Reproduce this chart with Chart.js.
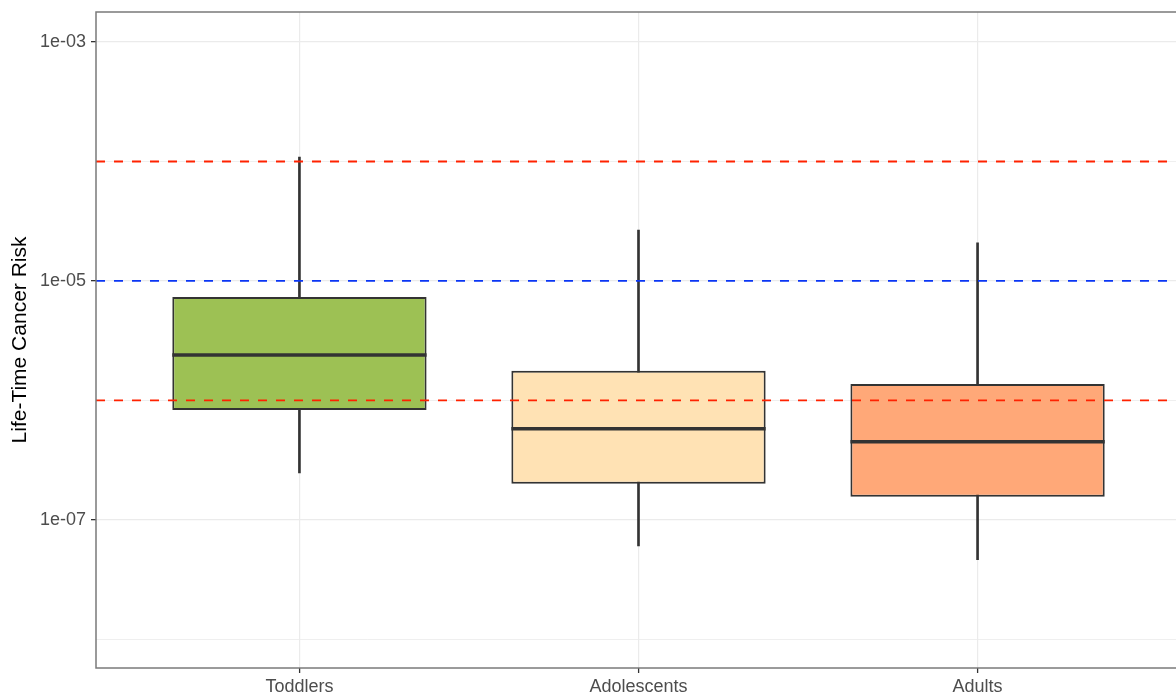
<!DOCTYPE html>
<html>
<head>
<meta charset="utf-8">
<script src="https://cdn.jsdelivr.net/npm/chart.js@4/dist/chart.umd.min.js"></script>
<style>
  body { margin: 0; background: #fff; overflow: hidden; }
  #wrap { width: 1190px; height: 698px; }
</style>
</head>
<body>
<div id="wrap"><canvas id="myChart" width="1190" height="698"></canvas></div>
<script>
// Box plot data
const categories = ['Toddlers', 'Adolescents', 'Adults'];
const whiskerLow = [2.47e-7, 6.05e-8, 4.63e-8];
const q1 = [8.3e-7, 2.0e-7, 1.56e-7];
const medians = [2.4e-6, 5.78e-7, 4.5e-7];
const q3 = [7.35e-6, 1.77e-6, 1.37e-6];
const whiskerHigh = [1.09e-4, 2.67e-5, 2.08e-5];
const boxColors = ['#9dc154', '#ffe2b4', '#ffa878'];

// Axis ticks
const tickValues = [1e-3, 1e-5, 1e-7];
const tickLabels = ['1e-03', '1e-05', '1e-07'];
const minorValues = [1e-4, 1e-6, 1e-8];

// Reference limits
const redLimits = [1e-4, 1e-6];
const blueLimits = [1e-5];

const sameDecade = (a, b) => Math.abs(Math.log10(a) - Math.log10(b)) < 1e-6;
const isMajor = v => tickValues.some(t => sameDecade(t, v));

// Draws medians, dashed limit lines and the panel border
const boxExtras = {
    id: 'boxExtras',
    afterDatasetsDraw(chart) {
        const ctx = chart.ctx;
        const area = chart.chartArea;
        const y = chart.scales.y;

        // dashed limit lines
        ctx.save();
        ctx.lineWidth = 1.8;
        ctx.setLineDash([9, 9]);
        const dashed = (vals, color) => {
            ctx.strokeStyle = color;
            vals.forEach(v => {
                const py = y.getPixelForValue(v);
                ctx.beginPath();
                ctx.moveTo(area.left, py);
                ctx.lineTo(area.right, py);
                ctx.stroke();
            });
        };
        dashed(redLimits, '#ff2200');
        dashed(blueLimits, '#0a36f5');
        ctx.restore();

        // medians
        const meta = chart.getDatasetMeta(0);
        ctx.save();
        ctx.strokeStyle = '#333333';
        ctx.lineWidth = 3.4;
        meta.data.forEach((bar, i) => {
            const py = y.getPixelForValue(medians[i]);
            ctx.beginPath();
            ctx.moveTo(bar.x - bar.width / 2, py);
            ctx.lineTo(bar.x + bar.width / 2, py);
            ctx.stroke();
        });
        ctx.restore();

        // panel border
        ctx.save();
        ctx.strokeStyle = '#7a7a7a';
        ctx.lineWidth = 1.5;
        ctx.strokeRect(area.left, area.top, area.right - area.left, area.bottom - area.top);
        ctx.restore();
    }
};

const ctx = document.getElementById('myChart');

const chart = new Chart(ctx, {
    type: 'bar',
    data: {
        datasets: [
            {
                label: 'Box',
                data: categories.map((c, i) => ({ x: i, y: [q1[i], q3[i]] })),
                backgroundColor: boxColors,
                borderColor: '#333333',
                borderWidth: 2,
                borderSkipped: false,
                grouped: false,
                categoryPercentage: 1,
                barPercentage: 0.75,
                order: 0
            },
            {
                label: 'Whisker',
                data: categories.map((c, i) => ({ x: i, y: [whiskerLow[i], whiskerHigh[i]] })),
                backgroundColor: '#333333',
                borderWidth: 0,
                grouped: false,
                barThickness: 2,
                order: 1
            }
        ]
    },
    options: {
        responsive: false,
        animation: false,
        layout: { padding: { top: 12, right: 9, left: 0, bottom: 0 } },
        plugins: {
            legend: { display: false },
            tooltip: { enabled: false }
        },
        scales: {
            x: {
                type: 'linear',
                min: -0.6,
                max: 2.6,
                offset: false,
                afterBuildTicks: axis => {
                    axis.ticks = categories.map((c, i) => ({ value: i }));
                },
                afterFit: axis => {
                    axis.height = 30;
                    axis.paddingLeft = 0;
                    axis.paddingRight = 0;
                },
                border: { display: false },
                grid: {
                    offset: false,
                    color: '#ebebeb',
                    lineWidth: 1.2,
                    tickColor: '#333333',
                    tickLength: 5,
                    tickWidth: 1.3
                },
                ticks: {
                    autoSkip: false,
                    maxRotation: 0,
                    padding: 3,
                    color: '#4d4d4d',
                    font: { family: 'Liberation Sans, Arial, sans-serif', size: 18 },
                    callback: value => categories[value] ?? ''
                }
            },
            y: {
                type: 'logarithmic',
                min: Math.pow(10, -8.2406),
                max: Math.pow(10, -2.7485),
                afterBuildTicks: axis => {
                    axis.ticks = tickValues.concat(minorValues)
                        .sort((a, b) => a - b)
                        .map(v => ({ value: v }));
                },
                afterFit: axis => {
                    axis.width = 96;
                    axis.paddingTop = 0;
                    axis.paddingBottom = 0;
                },
                border: { display: false },
                grid: {
                    color: '#ebebeb',
                    lineWidth: c => isMajor(c.tick.value) ? 1.3 : 0.8,
                    tickColor: c => isMajor(c.tick.value) ? '#333333' : 'rgba(0,0,0,0)',
                    tickLength: 5,
                    tickWidth: 1.3
                },
                ticks: {
                    autoSkip: false,
                    padding: 5,
                    color: '#4d4d4d',
                    font: { family: 'Liberation Sans, Arial, sans-serif', size: 18 },
                    callback: value => {
                        const idx = tickValues.findIndex(t => sameDecade(t, value));
                        return idx >= 0 ? tickLabels[idx] : '';
                    }
                },
                title: {
                    display: true,
                    text: 'Life-Time Cancer Risk',
                    color: '#000000',
                    padding: { top: 8, bottom: 0 },
                    font: { family: 'Liberation Sans, Arial, sans-serif', size: 21 }
                }
            }
        }
    },
    plugins: [boxExtras]
});
</script>
</body>
</html>
